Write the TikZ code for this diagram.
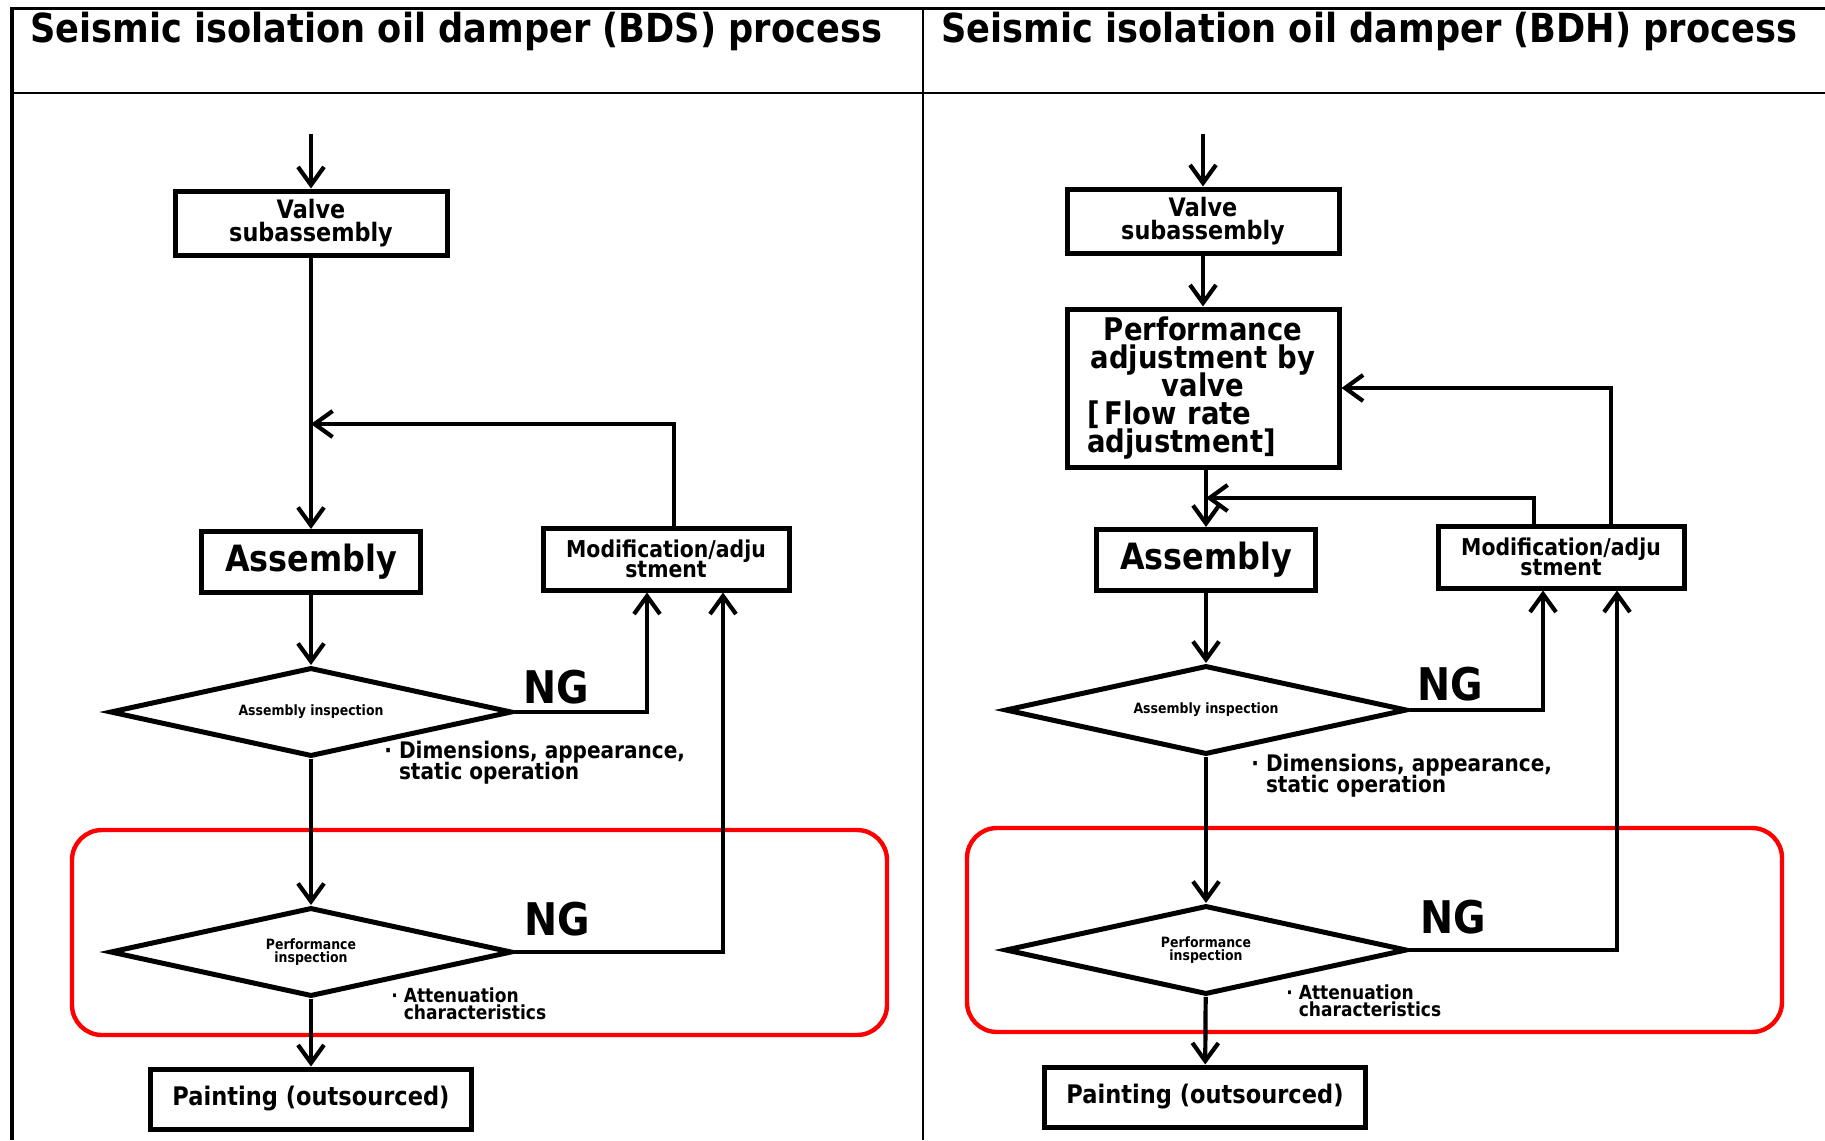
\documentclass[tikz,border=0pt]{standalone}
\usepackage{fontspec}
\setmainfont{DejaVu Sans}[FakeStretch=0.88]
\usetikzlibrary{shapes.geometric,arrows.meta}
\newcommand\tightlines{\lineskiplimit=-20pt\lineskip=0pt\relax}

\begin{document}
\begin{tikzpicture}[x=0.5pt, y=-0.5pt, font=\bfseries,
    box/.style={draw, line width=2.5pt, align=center, inner sep=0pt},
    valvebox/.style={box, minimum width=136pt, minimum height=32pt, font=\bfseries\fontsize{12.7}{11.5}\selectfont\tightlines},
    adjbox/.style={box, minimum width=136pt, minimum height=79pt, text width=116pt, font=\bfseries\fontsize{15.6}{14}\selectfont\tightlines},
    asmbox/.style={box, minimum width=109.5pt, minimum height=30.5pt, font=\bfseries\fontsize{18.1}{20}\selectfont},
    modbox/.style={box, minimum width=123pt, minimum height=31pt, font=\bfseries\fontsize{11.6}{10.2}\selectfont\tightlines},
    paintbox/.style={box, minimum width=160.5pt, minimum height=30pt, font=\bfseries\fontsize{12.8}{14}\selectfont},
    decision/.style={draw, diamond, aspect=4.5, line width=2.5pt, minimum width=201pt, minimum height=44.5pt, inner sep=1pt, align=center, font=\bfseries\fontsize{7.1}{6.4}\selectfont\tightlines},
    arr/.style={line width=2.1pt, -{Straight Barb[length=9pt, width=13pt]}},
    ng/.style={inner sep=0pt, font=\bfseries\fontsize{22.5}{24}\selectfont},
    dimnote/.style={inner sep=0pt, anchor=north west, align=left, font=\bfseries\fontsize{11.4}{10.3}\selectfont\tightlines},
    attnote/.style={inner sep=0pt, anchor=north west, align=left, font=\bfseries\fontsize{9.7}{8.7}\selectfont\tightlines},
    title/.style={inner sep=0pt, anchor=base west, font=\bfseries\fontsize{20}{22}\selectfont},
    redframe/.style={draw=red, line width=2.2pt, rounded corners=15pt}]
  \useasboundingbox (0,0) rectangle (1825,1140);

  % frame and headings
  \draw[line width=1.5pt] (10,8) -- (1825,8);
  \draw[line width=2pt] (12,7) -- (12,1140);
  \draw[line width=1pt] (923,8) -- (923,1140);
  \draw[line width=1.2pt] (12,93) -- (1825,93);
  \node[title] (ltitle) at (30,42) {Seismic isolation oil damper (BDS) process};
  \node[title] (rtitle) at (941,42) {Seismic isolation oil damper (BDH) process};

  % red frames
  \draw[redframe] (72,830) rectangle (887,1035);
  \draw[redframe] (967,828) rectangle (1782,1032);

  % BDS
  \coordinate (lin) at (311,134);
  \coordinate (lmerge) at (311,424);
  \node[valvebox] (lvalve) at (311,223) {Valve\\subassembly};
  \node[asmbox] (lasm) at (311,562) {Assembly};
  \node[modbox] (lmod) at (666,559) {Modification/adju\\stment};
  \node[decision] (ld1) at (311,712) {Assembly inspection};
  \node[decision] (ld2) at (311,952) {Performance\\inspection};
  \node[paintbox] (lpaint) at (311,1099) {Painting (outsourced)};
  \node[ng] (lng1) at (556,687) {NG};
  \node[ng] (lng2) at (557,919) {NG};
  \node[dimnote] (ldim) at (384,741) {·~Dimensions, appearance,\\\phantom{·~}static operation};
  \node[attnote] (latt) at (391,987) {·~Attenuation\\\phantom{·~}characteristics};

  \draw[arr] (lin) -- (lvalve);
  \draw[arr] (lvalve) -- (lasm);
  \draw[arr] ([xshift=4pt]lmod.north) |- (lmerge);
  \draw[arr] (lasm) -- (ld1);
  \draw[arr] (ld1.east) -| ([xshift=-9.5pt]lmod.south);
  \draw[arr] (ld1) -- (ld2);
  \draw[arr] (ld2.east) -| ([xshift=28.5pt]lmod.south);
  \draw[arr] (ld2) -- (lpaint);

  % BDH
  \coordinate (rin) at (1203,134);
  \coordinate (rmerge) at (1206,498);
  \node[valvebox] (rvalve) at (1203,221) {Valve\\subassembly};
  \node[adjbox] (radj) at (1203,388) {Performance\\adjustment by\\valve\\\makebox[116pt][l]{[\,Flow rate}\\\makebox[116pt][l]{adjustment]}};
  \node[asmbox] (rasm) at (1206,560) {Assembly};
  \node[modbox] (rmod) at (1561,557) {Modification/adju\\stment};
  \node[decision] (rd1) at (1206,710) {Assembly inspection};
  \node[decision] (rd2) at (1206,950) {Performance\\inspection};
  \node[paintbox] (rpaint) at (1205,1097) {Painting (outsourced)};
  \node[ng] (rng1) at (1450,684) {NG};
  \node[ng] (rng2) at (1453,917) {NG};
  \node[dimnote] (rdim) at (1251,754) {·~Dimensions, appearance,\\\phantom{·~}static operation};
  \node[attnote] (ratt) at (1286,984) {·~Attenuation\\\phantom{·~}characteristics};

  \draw[arr] (rin) -- (rvalve);
  \draw[arr] (rvalve) -- (radj);
  \draw[arr] (radj.south -| rasm.north) -- (rasm);
  \draw[arr] ([xshift=25pt]rmod.north) |- (radj.east);
  \draw[arr] ([xshift=-13.5pt]rmod.north) |- (rmerge);
  \draw[arr] (rasm) -- (rd1);
  \draw[arr] (rd1.east) -| ([xshift=-9pt]rmod.south);
  \draw[arr] (rd1) -- (rd2);
  \draw[arr] (rd2.east) -| ([xshift=28pt]rmod.south);
  \draw[arr] (rd2) -- (rpaint);
\end{tikzpicture}
\end{document}
